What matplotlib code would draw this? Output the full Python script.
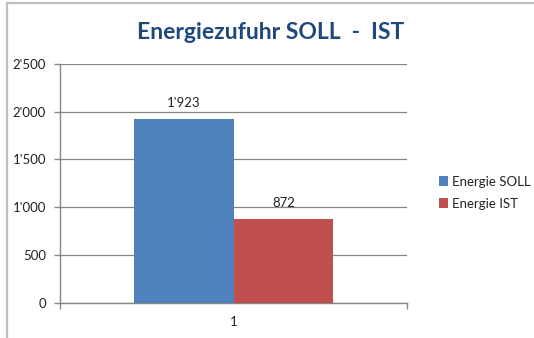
import matplotlib
matplotlib.use("Agg")
import matplotlib.pyplot as plt
from matplotlib.patches import Patch
from matplotlib.lines import Line2D
from matplotlib.ticker import FuncFormatter

plt.rcParams['font.family'] = ['Lato', 'DejaVu Sans']

categories = ["1"]
series_names = ["Energie SOLL", "Energie IST"]
soll_values = [1923]
ist_values = [872]
y_ticks = [0, 500, 1000, 1500, 2000, 2500]

colors = ["#4F81BD", "#C0504D"]
grid_color = "#868686"
text_color = "#222222"
title_color = "#1F497D"


def swiss(v, _pos=None):
    return f"{int(round(v)):,}".replace(",", "'")


fig = plt.figure(figsize=(5.34, 3.38), dpi=100)
ax = fig.add_axes([0.1124, 0.105, 0.6498, 0.7057])

bar_w = 0.288
x0 = 0
ax.bar(x0 - bar_w / 2, soll_values[0], width=bar_w, color=colors[0], zorder=3)
ax.bar(x0 + bar_w / 2, ist_values[0], width=bar_w, color=colors[1], zorder=3)

for xpos, val in [(x0 - bar_w / 2, soll_values[0]), (x0 + bar_w / 2, ist_values[0])]:
    ax.annotate(swiss(val), (xpos, val), xytext=(0, 7.5), textcoords="offset points",
                ha="center", va="bottom", fontsize=9.5, color=text_color)

ax.set_xlim(-0.5, 0.5)
ax.set_ylim(0, 2500)
ax.set_yticks(y_ticks)
ax.yaxis.set_major_formatter(FuncFormatter(swiss))
ax.set_xticks([-0.5, 0.5], minor=False)
ax.set_xticklabels(["", ""])
ax.set_xticks([0], minor=True)
ax.set_xticklabels(categories, minor=True)
ax.tick_params(axis="x", which="minor", length=0, pad=10, labelsize=9.5, labelcolor=text_color)
ax.tick_params(axis="x", which="major", length=4, width=1, color=grid_color, direction="out")
ax.tick_params(axis="y", length=4, width=1, color=grid_color, direction="out",
               labelsize=9.5, labelcolor=text_color, pad=6)

ax.grid(axis="y", color=grid_color, linewidth=0.9, zorder=0)
for s in ["top", "right"]:
    ax.spines[s].set_visible(False)
for s in ["left", "bottom"]:
    ax.spines[s].set_color(grid_color)
    ax.spines[s].set_linewidth(1.0)

fig.text(0.507, 0.905, "Energiezufuhr SOLL  -  IST", ha="center", va="center",
         fontsize=16.5, fontweight="bold", color=title_color)

handles = [Patch(facecolor=c, edgecolor="none") for c in colors]
fig.legend(handles, series_names, loc="center left", bbox_to_anchor=(0.80, 0.43),
           frameon=False, fontsize=9.5, handlelength=0.7, handleheight=0.7,
           handletextpad=0.25, labelspacing=0.75, labelcolor=text_color)

# chart frame (left and top edges)
fig.add_artist(Line2D([7 / 534, 7 / 534], [0, 1 - 3 / 338], transform=fig.transFigure,
                      color="#BFBFBF", linewidth=1.6))
fig.add_artist(Line2D([7 / 534, 1], [1 - 3 / 338, 1 - 3 / 338], transform=fig.transFigure,
                      color="#BFBFBF", linewidth=1.6))

fig.savefig("out.png", dpi=100)
